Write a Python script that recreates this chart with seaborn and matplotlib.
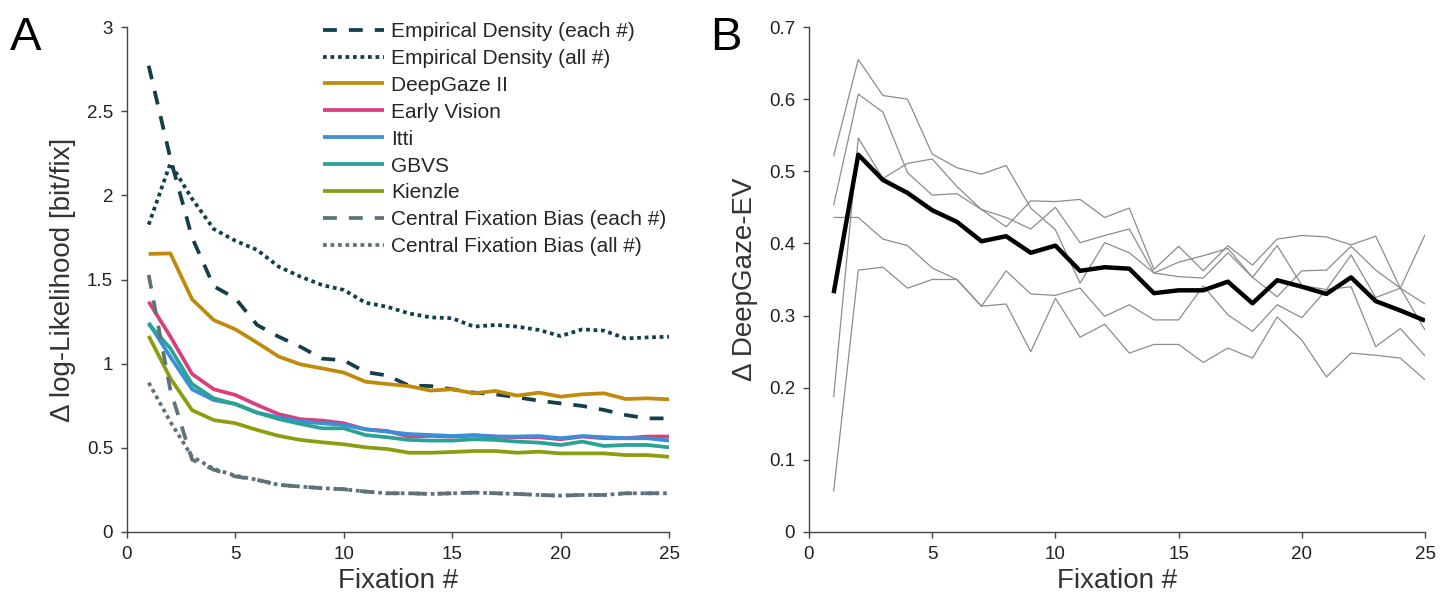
import numpy as np
import pandas as pd
import matplotlib
matplotlib.use("Agg")
import matplotlib.pyplot as plt
import seaborn as sns

# ---------------- data ----------------
fixations = list(range(1, 26))

emp_each = [2.77, 2.22, 1.75, 1.46, 1.388, 1.23, 1.16, 1.10, 1.03, 1.02, 0.95, 0.93, 0.87, 0.867,
            0.848, 0.828, 0.818, 0.80, 0.78, 0.764, 0.749, 0.725, 0.695, 0.675, 0.675]
emp_all = [1.826, 2.19, 1.98, 1.80, 1.73, 1.676, 1.576, 1.517, 1.467, 1.438, 1.362, 1.338, 1.299,
           1.275, 1.27, 1.22, 1.23, 1.22, 1.20, 1.164, 1.204, 1.196, 1.15, 1.156, 1.16]
deepgaze = [1.652, 1.655, 1.383, 1.259, 1.204, 1.125, 1.042, 0.996, 0.972, 0.947, 0.893, 0.879,
            0.867, 0.840, 0.848, 0.824, 0.838, 0.810, 0.828, 0.804, 0.818, 0.824, 0.790, 0.794, 0.788]
early_vision = [1.368, 1.161, 0.939, 0.848, 0.814, 0.755, 0.700, 0.670, 0.662, 0.646, 0.610, 0.600,
                0.567, 0.571, 0.567, 0.573, 0.567, 0.563, 0.563, 0.551, 0.567, 0.557, 0.557, 0.567, 0.567]
itti = [1.243, 1.04, 0.848, 0.784, 0.760, 0.709, 0.681, 0.656, 0.646, 0.636, 0.610, 0.596, 0.582,
        0.576, 0.570, 0.576, 0.567, 0.567, 0.570, 0.557, 0.570, 0.563, 0.557, 0.557, 0.543]
gbvs = [1.236, 1.091, 0.879, 0.794, 0.760, 0.709, 0.671, 0.642, 0.616, 0.616, 0.576, 0.563, 0.547,
        0.543, 0.543, 0.551, 0.547, 0.537, 0.531, 0.517, 0.537, 0.511, 0.517, 0.517, 0.503]
kienzle = [1.165, 0.913, 0.724, 0.665, 0.646, 0.606, 0.571, 0.547, 0.533, 0.521, 0.503, 0.493, 0.471,
           0.471, 0.475, 0.481, 0.481, 0.471, 0.477, 0.467, 0.467, 0.467, 0.457, 0.457, 0.447]
cfb_each = [1.527, 0.844, 0.43, 0.37, 0.33, 0.31, 0.28, 0.27, 0.26, 0.254, 0.24, 0.23, 0.23, 0.226,
            0.23, 0.234, 0.23, 0.226, 0.22, 0.216, 0.22, 0.22, 0.23, 0.23, 0.23]
cfb_all = [0.887, 0.655, 0.448, 0.375, 0.335, 0.31, 0.28, 0.27, 0.26, 0.254, 0.24, 0.23, 0.23, 0.226,
           0.23, 0.234, 0.23, 0.226, 0.22, 0.216, 0.22, 0.22, 0.23, 0.23, 0.23]

series_names = ["Empirical Density (each #)", "Empirical Density (all #)", "DeepGaze II",
                "Early Vision", "Itti", "GBVS", "Kienzle",
                "Central Fixation Bias (each #)", "Central Fixation Bias (all #)"]
series_values = [emp_each, emp_all, deepgaze, early_vision, itti, gbvs, kienzle, cfb_each, cfb_all]
series_colors = ["#123f4a", "#123f4a", "#c08a0c", "#d8407e", "#3a8fd8", "#2aa396", "#8c9e10",
                 "#5f727a", "#5f727a"]
series_styles = [(0, (3.7, 3.2)), (0, (1, 1)), "-", "-", "-", "-", "-",
                 (0, (3.7, 3.2)), (0, (1, 1))]

diff_mean = [0.331, 0.523, 0.488, 0.470, 0.446, 0.430, 0.403, 0.410, 0.387, 0.397, 0.362, 0.367,
             0.365, 0.331, 0.335, 0.335, 0.347, 0.317, 0.349, 0.340, 0.330, 0.353, 0.320, 0.307, 0.293]
diff_s1 = [0.521, 0.655, 0.605, 0.600, 0.524, 0.505, 0.496, 0.508, 0.449, 0.419, 0.345, 0.401, 0.387,
           0.359, 0.354, 0.352, 0.387, 0.353, 0.326, 0.362, 0.363, 0.396, 0.363, 0.338, 0.316]
diff_s2 = [0.453, 0.607, 0.582, 0.498, 0.467, 0.469, 0.447, 0.423, 0.459, 0.458, 0.461, 0.436, 0.449,
           0.364, 0.396, 0.362, 0.397, 0.370, 0.406, 0.411, 0.409, 0.398, 0.410, 0.338, 0.412]
diff_s3 = [0.187, 0.546, 0.490, 0.511, 0.517, 0.479, 0.447, 0.436, 0.420, 0.450, 0.401, 0.411, 0.420,
           0.359, 0.374, 0.383, 0.393, 0.353, 0.397, 0.342, 0.336, 0.384, 0.325, 0.338, 0.280]
diff_s4 = [0.436, 0.436, 0.406, 0.397, 0.366, 0.350, 0.313, 0.362, 0.330, 0.328, 0.338, 0.299, 0.315,
           0.294, 0.294, 0.341, 0.301, 0.278, 0.315, 0.297, 0.336, 0.340, 0.257, 0.282, 0.244]
diff_s5 = [0.056, 0.363, 0.367, 0.338, 0.350, 0.350, 0.313, 0.316, 0.250, 0.324, 0.270, 0.288, 0.248,
           0.260, 0.260, 0.235, 0.255, 0.241, 0.298, 0.266, 0.215, 0.248, 0.245, 0.241, 0.211]
subject_series = [diff_s1, diff_s2, diff_s3, diff_s4, diff_s5]

xticks = [0, 5, 10, 15, 20, 25]
yticks_a = [0, 0.5, 1, 1.5, 2, 2.5, 3]
yticks_a_labels = ["0", "0.5", "1", "1.5", "2", "2.5", "3"]
yticks_b = [0, 0.1, 0.2, 0.3, 0.4, 0.5, 0.6, 0.7]
yticks_b_labels = ["0", "0.1", "0.2", "0.3", "0.4", "0.5", "0.6", "0.7"]

# ---------------- style ----------------
sns.set_style("ticks")
plt.rcParams["font.family"] = ["Liberation Sans", "DejaVu Sans"]
plt.rcParams["lines.solid_capstyle"] = "butt"

fig = plt.figure(figsize=(14.54, 6.10), dpi=100)
axA = fig.add_axes([127 / 1454, 78 / 610, 542 / 1454, 505 / 610])
axB = fig.add_axes([809 / 1454, 78 / 610, 616 / 1454, 505 / 610])

spine_col = "#444444"
tick_col = "#222222"

# ---------------- Panel A ----------------
for name, vals, col, ls in zip(series_names, series_values, series_colors, series_styles):
    df = pd.DataFrame({"Fixation": fixations, "value": vals})
    sns.lineplot(data=df, x="Fixation", y="value", ax=axA, color=col, linewidth=2.7,
                 linestyle=ls, label=name)

axA.set_xlim(0, 25)
axA.set_ylim(0, 3)
axA.set_xticks(xticks)
axA.set_yticks(yticks_a)
axA.set_yticklabels(yticks_a_labels)
axA.set_xlabel("Fixation #", fontsize=20, color="#333333", labelpad=4)
axA.set_ylabel("\u0394 log-Likelihood [bit/fix]", fontsize=20, color="#333333", labelpad=8)

leg = axA.legend(loc="upper left", bbox_to_anchor=(0.362, 1.01), frameon=False,
                 fontsize=15, handlelength=2.9, handletextpad=0.35, labelspacing=0.38,
                 borderpad=0, borderaxespad=0)

# ---------------- Panel B ----------------
rows = []
for i, s in enumerate(subject_series):
    for f, v in zip(fixations, s):
        rows.append({"Fixation": f, "value": v, "subject": f"s{i + 1}"})
dfB = pd.DataFrame(rows)
sns.lineplot(data=dfB, x="Fixation", y="value", units="subject", estimator=None,
             ax=axB, color="#8c8c8c", linewidth=0.9, legend=False)
dfM = pd.DataFrame({"Fixation": fixations, "value": diff_mean})
sns.lineplot(data=dfM, x="Fixation", y="value", ax=axB, color="black", linewidth=3.2)

axB.set_xlim(0, 25)
axB.set_ylim(0, 0.7)
axB.set_xticks(xticks)
axB.set_yticks(yticks_b)
axB.set_yticklabels(yticks_b_labels)
axB.set_xlabel("Fixation #", fontsize=20, color="#333333", labelpad=4)
axB.set_ylabel("\u0394 DeepGaze-EV", fontsize=20, color="#333333", labelpad=8)

for ax in (axA, axB):
    sns.despine(ax=ax)
    for sp in ("left", "bottom"):
        ax.spines[sp].set_color(spine_col)
        ax.spines[sp].set_linewidth(1.0)
    ax.tick_params(axis="both", direction="out", length=4, width=1, color=spine_col,
                   labelsize=13.5, labelcolor=tick_col, pad=6)
    ax.patch.set_alpha(0)

fig.text(10 / 1454, 1 - 50 / 610, "A", fontsize=34, color="black")
fig.text(710 / 1454, 1 - 50 / 610, "B", fontsize=34, color="black")

fig.savefig("out.png", dpi=100)
